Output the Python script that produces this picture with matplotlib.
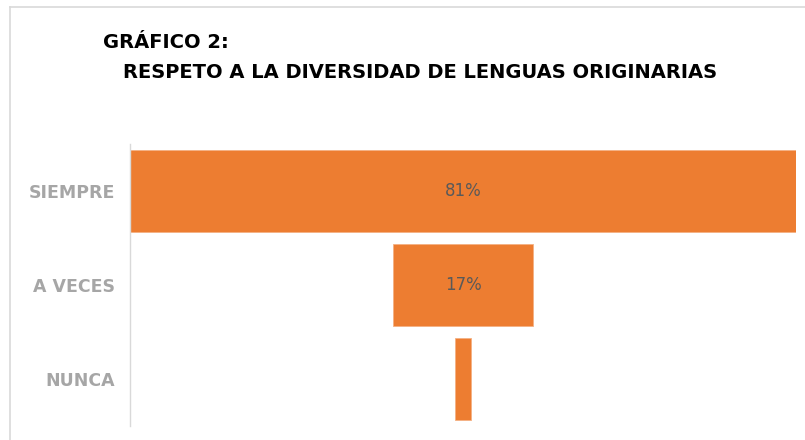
import matplotlib.pyplot as plt
import numpy as np
from matplotlib.lines import Line2D

# datos del grafico
categorias = ['SIEMPRE', 'A VECES', 'NUNCA']
porcentajes = [81, 17, 2]
etiquetas = ['81%', '17%', '']

naranja = '#ed7d31'
fuente = ['DejaVu Sans']

fig = plt.figure(figsize=(8.05, 4.4), dpi=100)
fig.patch.set_facecolor('white')

# marco del grafico (izquierda y arriba)
fig.add_artist(Line2D([10/805, 10/805], [0, 1 - 7/440], transform=fig.transFigure,
                      color='#d9d9d9', lw=1.2))
fig.add_artist(Line2D([10/805, 1], [1 - 7/440, 1 - 7/440], transform=fig.transFigure,
                      color='#d9d9d9', lw=1.2))

ax = fig.add_axes([130/805, 1 - 426/440, 666/805, 282/440])

vals = np.array(porcentajes, dtype=float)
pos = np.arange(len(categorias))
# embudo: barras centradas
ax.barh(pos, vals, left=-vals/2, height=0.88, color=naranja,
        edgecolor='#f4b183', linewidth=0.6)

for p, v, et in zip(pos, vals, etiquetas):
    if et:
        ax.text(0, p, et, ha='center', va='center', fontsize=12,
                color='#595959', family=fuente)

maxv = vals.max()
ax.set_xlim(-maxv/2, maxv/2)
ax.set_ylim(len(categorias) - 0.5, -0.5)
ax.set_yticks(pos)
ax.set_yticklabels(categorias, fontsize=12.5, fontweight='bold',
                   color='#a6a6a6', family=fuente)
ax.tick_params(axis='y', length=0, pad=11)
ax.set_xticks([])
for s in ['top', 'right', 'bottom']:
    ax.spines[s].set_visible(False)
ax.spines['left'].set_color('#d9d9d9')
ax.spines['left'].set_linewidth(1.0)

fig.text(103/805, 1 - 42/440, 'GRÁFICO 2:', fontsize=14, fontweight='bold',
         va='center', ha='left', family=fuente)
fig.text(123/805, 1 - 73/440, 'RESPETO A LA DIVERSIDAD DE LENGUAS ORIGINARIAS',
         fontsize=14, fontweight='bold', va='center', ha='left', family=fuente)

fig.savefig('out.png', dpi=100, facecolor='white')
